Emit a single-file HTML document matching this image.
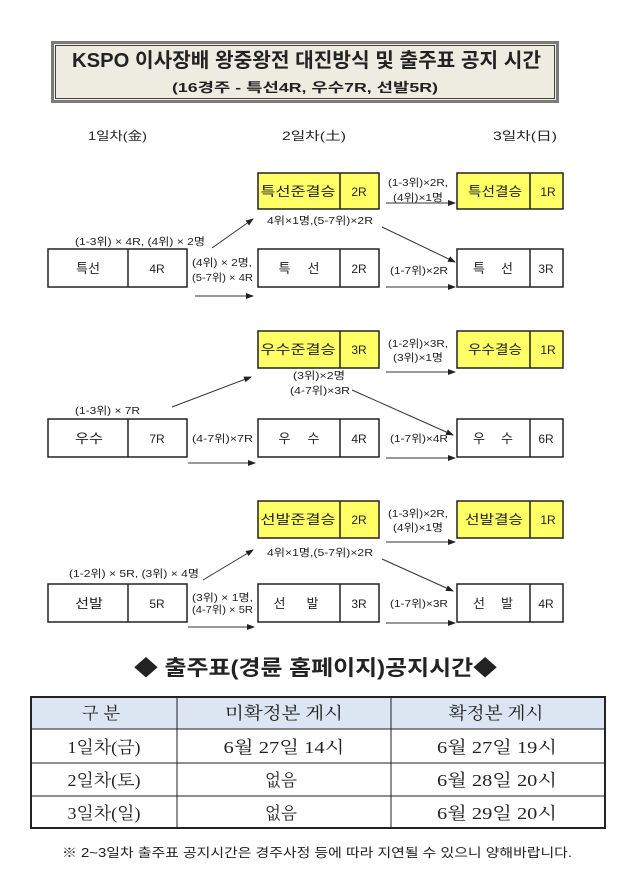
<!DOCTYPE html>
<html><head><meta charset="utf-8">
<style>
html,body{margin:0;padding:0;background:#fff;}
svg{display:block;}
.s{font-family:"Liberation Sans","Noto Sans CJK KR",sans-serif;fill:#222;}
.sr{font-family:"Liberation Serif","Noto Serif CJK SC",serif;fill:#222;}
</style></head>
<body>
<svg width="633" height="875" viewBox="0 0 633 875" xmlns="http://www.w3.org/2000/svg">
<defs>
<marker id="ah" markerWidth="8" markerHeight="6" refX="7" refY="3" orient="auto" markerUnits="userSpaceOnUse">
<path d="M0,0 L8,3 L0,6 z" fill="#222"/>
</marker>
</defs>

<!-- Title box -->
<rect x="52.5" y="42.5" width="505" height="59" fill="#eeece1" stroke="#7a7a7a" stroke-width="3"/>
<rect x="55.5" y="45.5" width="499" height="53" fill="none" stroke="#444" stroke-width="1"/>
<text class="s" x="72" y="67" font-size="20" font-weight="bold" fill="#111" textLength="469" lengthAdjust="spacingAndGlyphs">KSPO 이사장배 왕중왕전 대진방식 및 출주표 공지 시간</text>
<text class="s" x="172" y="92" font-size="13" font-weight="bold" fill="#222" textLength="266" lengthAdjust="spacingAndGlyphs">(16경주 - 특선4R, 우수7R, 선발5R)</text>

<!-- Day labels -->
<text class="s" x="88" y="140" font-size="12" textLength="59" lengthAdjust="spacingAndGlyphs">1일차(金)</text>
<text class="s" x="282" y="140" font-size="12" textLength="64" lengthAdjust="spacingAndGlyphs">2일차(土)</text>
<text class="s" x="493" y="140" font-size="12" textLength="64" lengthAdjust="spacingAndGlyphs">3일차(日)</text>

<g stroke="#222" stroke-width="1.5" fill="#fff">
<!-- Section 1 -->
<rect x="48" y="249" width="139" height="38"/><line x1="128" y1="249" x2="128" y2="287"/>
<rect x="258" y="173" width="121" height="36" fill="#ffff66"/><line x1="340" y1="173" x2="340" y2="209"/>
<rect x="258" y="249" width="121" height="38"/><line x1="340" y1="249" x2="340" y2="287"/>
<rect x="457" y="173" width="106" height="36" fill="#ffff66"/><line x1="530" y1="173" x2="530" y2="209"/>
<rect x="457" y="249" width="106" height="38"/><line x1="530" y1="249" x2="530" y2="287"/>
<!-- Section 2 -->
<rect x="48" y="419" width="139" height="38"/><line x1="128" y1="419" x2="128" y2="457"/>
<rect x="258" y="331" width="121" height="37" fill="#ffff66"/><line x1="340" y1="331" x2="340" y2="368"/>
<rect x="258" y="419" width="121" height="38"/><line x1="340" y1="419" x2="340" y2="457"/>
<rect x="457" y="331" width="106" height="37" fill="#ffff66"/><line x1="530" y1="331" x2="530" y2="368"/>
<rect x="457" y="419" width="106" height="38"/><line x1="530" y1="419" x2="530" y2="457"/>
<!-- Section 3 -->
<rect x="48" y="584" width="139" height="38"/><line x1="128" y1="584" x2="128" y2="622"/>
<rect x="258" y="501" width="121" height="37" fill="#ffff66"/><line x1="340" y1="501" x2="340" y2="538"/>
<rect x="258" y="584" width="121" height="38"/><line x1="340" y1="584" x2="340" y2="622"/>
<rect x="457" y="501" width="106" height="37" fill="#ffff66"/><line x1="530" y1="501" x2="530" y2="538"/>
<rect x="457" y="584" width="106" height="38"/><line x1="530" y1="584" x2="530" y2="622"/>
</g>

<!-- Arrows -->
<g stroke="#333" stroke-width="1" marker-end="url(#ah)">
<line x1="212" y1="248" x2="253" y2="219"/>
<line x1="195" y1="296" x2="253" y2="296"/>
<line x1="386" y1="203" x2="455" y2="203"/>
<line x1="382" y1="227" x2="455" y2="262"/>
<line x1="386" y1="287" x2="455" y2="287"/>

<line x1="172" y1="407" x2="251" y2="377"/>
<line x1="188" y1="463" x2="255" y2="463"/>
<line x1="386" y1="372" x2="455" y2="372"/>
<line x1="352" y1="390" x2="453" y2="435"/>
<line x1="386" y1="458" x2="455" y2="458"/>

<line x1="203" y1="580" x2="253" y2="550"/>
<line x1="188" y1="627" x2="254" y2="627"/>
<line x1="386" y1="542" x2="455" y2="542"/>
<line x1="382" y1="559" x2="453" y2="591"/>
<line x1="386" y1="623" x2="455" y2="623"/>
</g>

<!-- Box texts section 1 -->
<g class="s" font-size="13" text-anchor="middle">
<text x="88" y="273" textLength="24" lengthAdjust="spacingAndGlyphs">특선</text>
<text x="157" y="273" font-size="12">4R</text>
<text x="298" y="196" textLength="75" lengthAdjust="spacingAndGlyphs">특선준결승</text>
<text x="359" y="196" font-size="12">2R</text>
<text x="299" y="273" textLength="41" lengthAdjust="spacing">특 선</text>
<text x="359" y="273" font-size="12">2R</text>
<text x="495" y="196" textLength="54" lengthAdjust="spacingAndGlyphs">특선결승</text>
<text x="548" y="196" font-size="12">1R</text>
<text x="493" y="273" textLength="40" lengthAdjust="spacing">특 선</text>
<text x="546" y="273" font-size="12">3R</text>

<text x="89" y="443" textLength="28" lengthAdjust="spacingAndGlyphs">우수</text>
<text x="157" y="443" font-size="12">7R</text>
<text x="298" y="354" textLength="75" lengthAdjust="spacingAndGlyphs">우수준결승</text>
<text x="359" y="354" font-size="12">3R</text>
<text x="299" y="443" textLength="41" lengthAdjust="spacing">우 수</text>
<text x="359" y="443" font-size="12">4R</text>
<text x="495" y="354" textLength="54" lengthAdjust="spacingAndGlyphs">우수결승</text>
<text x="548" y="354" font-size="12">1R</text>
<text x="493" y="443" textLength="40" lengthAdjust="spacing">우 수</text>
<text x="546" y="443" font-size="12">6R</text>

<text x="89" y="608" textLength="28" lengthAdjust="spacingAndGlyphs">선발</text>
<text x="157" y="608" font-size="12">5R</text>
<text x="298" y="524" textLength="75" lengthAdjust="spacingAndGlyphs">선발준결승</text>
<text x="359" y="524" font-size="12">2R</text>
<text x="296" y="608" textLength="45" lengthAdjust="spacing">선 발</text>
<text x="359" y="608" font-size="12">3R</text>
<text x="494" y="524" textLength="58" lengthAdjust="spacingAndGlyphs">선발결승</text>
<text x="548" y="524" font-size="12">1R</text>
<text x="493" y="608" textLength="40" lengthAdjust="spacing">선 발</text>
<text x="546" y="608" font-size="12">4R</text>
</g>

<!-- Small labels -->
<g class="s" font-size="10.5">
<text x="75" y="245" textLength="130" lengthAdjust="spacingAndGlyphs">(1-3위) × 4R, (4위) × 2명</text>
<text x="192" y="266" textLength="60" lengthAdjust="spacingAndGlyphs">(4위) × 2명,</text>
<text x="192" y="281" textLength="61" lengthAdjust="spacingAndGlyphs">(5-7위) × 4R</text>
<text x="267" y="224" textLength="106" lengthAdjust="spacingAndGlyphs">4위×1명,(5-7위)×2R</text>
<text x="388" y="186" textLength="60" lengthAdjust="spacingAndGlyphs">(1-3위)×2R,</text>
<text x="393" y="201" textLength="50" lengthAdjust="spacingAndGlyphs">(4위)×1명</text>
<text x="390" y="274" textLength="58" lengthAdjust="spacingAndGlyphs">(1-7위)×2R</text>

<text x="75" y="414" textLength="65" lengthAdjust="spacingAndGlyphs">(1-3위) × 7R</text>
<text x="192" y="442" textLength="61" lengthAdjust="spacingAndGlyphs">(4-7위)×7R</text>
<text x="293" y="379" textLength="52" lengthAdjust="spacingAndGlyphs">(3위)×2명</text>
<text x="290" y="394" textLength="60" lengthAdjust="spacingAndGlyphs">(4-7위)×3R</text>
<text x="388" y="347" textLength="60" lengthAdjust="spacingAndGlyphs">(1-2위)×3R,</text>
<text x="393" y="361" textLength="50" lengthAdjust="spacingAndGlyphs">(3위)×1명</text>
<text x="390" y="442" textLength="58" lengthAdjust="spacingAndGlyphs">(1-7위)×4R</text>

<text x="69" y="577" textLength="130" lengthAdjust="spacingAndGlyphs">(1-2위) × 5R, (3위) × 4명</text>
<text x="267" y="556" textLength="106" lengthAdjust="spacingAndGlyphs">4위×1명,(5-7위)×2R</text>
<text x="192" y="601" textLength="61" lengthAdjust="spacingAndGlyphs">(3위) × 1명,</text>
<text x="192" y="613" textLength="61" lengthAdjust="spacingAndGlyphs">(4-7위) × 5R</text>
<text x="388" y="517" textLength="60" lengthAdjust="spacingAndGlyphs">(1-3위)×2R,</text>
<text x="393" y="531" textLength="50" lengthAdjust="spacingAndGlyphs">(4위)×1명</text>
<text x="390" y="607" textLength="58" lengthAdjust="spacingAndGlyphs">(1-7위)×3R</text>
</g>

<!-- Heading -->
<text class="s" x="134" y="675" font-size="21" font-weight="bold" fill="#111" textLength="363" lengthAdjust="spacingAndGlyphs">◆ 출주표(경륜 홈페이지)공지시간◆</text>

<!-- Table -->
<rect x="31" y="697" width="574" height="32" fill="#dce6f2"/>
<g stroke="#222" stroke-width="1">
<line x1="31" y1="729" x2="605" y2="729"/>
<line x1="31" y1="763" x2="605" y2="763"/>
<line x1="31" y1="796" x2="605" y2="796"/>
<line x1="177" y1="697" x2="177" y2="828"/>
<line x1="391" y1="697" x2="391" y2="828"/>
</g>
<rect x="31" y="697" width="574" height="131" fill="none" stroke="#222" stroke-width="2"/>

<g class="sr" font-size="17" text-anchor="middle">
<text x="101" y="719" textLength="38" lengthAdjust="spacing">구 분</text>
<text x="284" y="719" textLength="118" lengthAdjust="spacingAndGlyphs">미확정본 게시</text>
<text x="496" y="719" textLength="95" lengthAdjust="spacingAndGlyphs">확정본 게시</text>
<text x="104" y="753" textLength="73" lengthAdjust="spacingAndGlyphs">1일차(금)</text>
<text x="284" y="753" textLength="121" lengthAdjust="spacingAndGlyphs">6월 27일 14시</text>
<text x="497" y="753" textLength="120" lengthAdjust="spacingAndGlyphs">6월 27일 19시</text>
<text x="104" y="786" textLength="73" lengthAdjust="spacingAndGlyphs">2일차(토)</text>
<text x="281" y="786" textLength="32" lengthAdjust="spacingAndGlyphs">없음</text>
<text x="497" y="786" textLength="120" lengthAdjust="spacingAndGlyphs">6월 28일 20시</text>
<text x="104" y="819" textLength="73" lengthAdjust="spacingAndGlyphs">3일차(일)</text>
<text x="281" y="819" textLength="32" lengthAdjust="spacingAndGlyphs">없음</text>
<text x="497" y="819" textLength="120" lengthAdjust="spacingAndGlyphs">6월 29일 20시</text>
</g>

<!-- Note -->
<text class="s" x="62" y="857" font-size="12.5" fill="#333" textLength="510" lengthAdjust="spacingAndGlyphs">※ 2~3일차 출주표 공지시간은 경주사정 등에 따라 지연될 수 있으니 양해바랍니다.</text>
</svg>
</body></html>
